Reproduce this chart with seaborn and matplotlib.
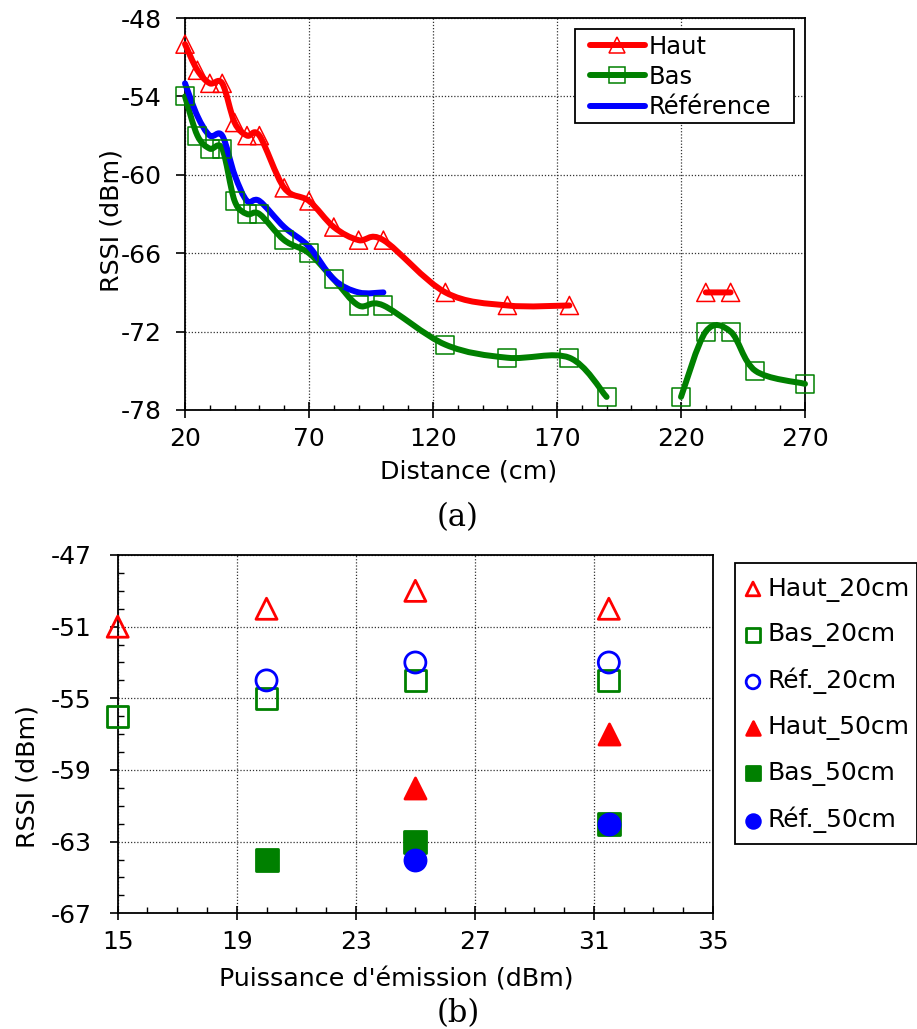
import numpy as np
import matplotlib
matplotlib.use("Agg")
import matplotlib.pyplot as plt
from matplotlib.path import Path
from matplotlib.patches import PathPatch, Rectangle
from matplotlib.lines import Line2D
from matplotlib.ticker import MultipleLocator
import seaborn as sns

# --- (a) RSSI vs distance ---
dist_haut = [20, 25, 30, 35, 40, 45, 50, 60, 70, 80, 90, 100, 125, 150, 175]
rssi_haut = [-50, -52, -53, -53, -56, -57, -57, -61, -62, -64, -65, -65, -69, -70, -70]
dist_haut2 = [230, 240]
rssi_haut2 = [-69, -69]

dist_bas = [20, 25, 30, 35, 40, 45, 50, 60, 70, 80, 90, 100, 125, 150, 175, 190]
rssi_bas = [-54, -57, -58, -58, -62, -63, -63, -65, -66, -68, -70, -70, -73, -74, -74, -77]
dist_bas2 = [220, 230, 240, 250, 270]
rssi_bas2 = [-77, -72, -72, -75, -76]

dist_ref = [20, 25, 30, 35, 40, 45, 50, 60, 70, 80, 90, 100]
rssi_ref = [-53, -55.5, -57, -57, -60, -62, -62, -64, -65.5, -68, -69, -69]

xticks_a = [20, 70, 120, 170, 220, 270]
yticks_a = [-78, -72, -66, -60, -54, -48]

# --- (b) RSSI vs emission power ---
pw_haut20 = [15, 20, 25, 31.5]
rssi_haut20 = [-51, -50, -49, -50]
pw_bas20 = [15, 20, 25, 31.5]
rssi_bas20 = [-56, -55, -54, -54]
pw_ref20 = [20, 25, 31.5]
rssi_ref20 = [-54, -53, -53]
pw_haut50 = [25, 31.5]
rssi_haut50 = [-60, -57]
pw_bas50 = [20, 25, 31.5]
rssi_bas50 = [-64, -63, -62]
pw_ref50 = [25, 31.5]
rssi_ref50 = [-64, -62]

xticks_b = [15, 19, 23, 27, 31, 35]
yticks_b = [-67, -63, -59, -55, -51, -47]

RED, GREEN, BLUE = "#ff0000", "#008000", "#0000ff"

sns.set_style("ticks")
plt.rcParams["font.family"] = ["DejaVu Sans"]
plt.rcParams["axes.unicode_minus"] = False
for key in ["text.color", "axes.labelcolor", "xtick.color", "ytick.color"]:
    plt.rcParams[key] = "black"


def smooth_curve(ax, x, y, color, lw=4.3):
    # Excel-like smoothed line (Catmull-Rom as cubic Bezier)
    pts = np.column_stack([x, y]).astype(float)
    n = len(pts)
    verts = [pts[0]]
    codes = [Path.MOVETO]
    for i in range(n - 1):
        p0 = pts[max(i - 1, 0)]
        p3 = pts[min(i + 2, n - 1)]
        verts += [pts[i] + (pts[i + 1] - p0) / 6, pts[i + 1] - (p3 - pts[i]) / 6, pts[i + 1]]
        codes += [Path.CURVE4] * 3
    ax.add_patch(PathPatch(Path(verts, codes), fill=False, edgecolor=color, lw=lw,
                           capstyle="round", joinstyle="round", zorder=3, clip_on=False))


def style_axes(ax):
    for sp in ax.spines.values():
        sp.set_visible(True)
        sp.set_color("black")
        sp.set_linewidth(1.3)
    ax.grid(True, which="major", linestyle=(0, (1, 1.5)), color="#333333", lw=0.9)
    ax.set_axisbelow(True)


W, H = 917, 1029
fig = plt.figure(figsize=(W / 100, H / 100), dpi=100)


def frame_box(x0, y0, x1, y1):
    # legend frame in figure pixels (from top-left)
    fig.patches.append(Rectangle((x0 / W, 1 - y1 / H), (x1 - x0) / W, (y1 - y0) / H,
                                 transform=fig.transFigure, fill=True, facecolor="white",
                                 edgecolor="black", lw=1.3, zorder=5))


# ---------- (a) ----------
ax1 = fig.add_axes([185 / W, 1 - 410 / H, 620 / W, 392 / H])
style_axes(ax1)

smooth_curve(ax1, dist_haut, rssi_haut, RED)
smooth_curve(ax1, dist_haut2, rssi_haut2, RED)
sns.scatterplot(x=dist_haut + dist_haut2, y=rssi_haut + rssi_haut2, ax=ax1, marker="^", s=170,
                facecolor="none", edgecolor=RED, linewidth=1.1, clip_on=False, zorder=4, legend=False)
smooth_curve(ax1, dist_bas, rssi_bas, GREEN)
smooth_curve(ax1, dist_bas2, rssi_bas2, GREEN)
sns.scatterplot(x=dist_bas + dist_bas2, y=rssi_bas + rssi_bas2, ax=ax1, marker="s", s=170,
                facecolor="none", edgecolor=GREEN, linewidth=1.1, clip_on=False, zorder=4, legend=False)
smooth_curve(ax1, dist_ref, rssi_ref, BLUE)

ax1.set_xlim(20, 270)
ax1.set_ylim(-78, -48)
ax1.set_xticks(xticks_a)
ax1.set_yticks(yticks_a)
ax1.xaxis.set_minor_locator(MultipleLocator(10))
ax1.tick_params(axis="x", which="major", direction="inout", length=11, width=1.2, pad=7, labelsize=18)
ax1.tick_params(axis="x", which="minor", direction="in", length=3.6, width=1.0)
ax1.tick_params(axis="y", which="major", direction="out", length=6.5, width=1.2, pad=10, labelsize=18)

ax1.set_xlabel("Distance (cm)", fontsize=18.3)
ax1.set_ylabel("RSSI (dBm)", fontsize=18.3)
ax1.xaxis.set_label_coords((469 - 185) / 620, (410 - 471) / 392)
ax1.xaxis.label.set_va("center")
ax1.yaxis.set_label_coords((112 - 185) / 620, (410 - 220) / 392)
ax1.yaxis.label.set_va("center")

frame_box(575, 29, 794, 123)
handles1 = [
    Line2D([], [], color=RED, lw=4.3, marker="^", ms=12, mfc="none", mec=RED, mew=1.1),
    Line2D([], [], color=GREEN, lw=4.3, marker="s", ms=12, mfc="none", mec=GREEN, mew=1.1),
    Line2D([], [], color=BLUE, lw=4.3),
]
leg1 = fig.legend(handles1, ["Haut", "Bas", "Référence"], loc="upper left",
                  bbox_to_anchor=(590 / W, 1 - 34.5 / H), borderaxespad=0, borderpad=0,
                  fontsize=17.5, frameon=False, labelspacing=0.26, handlelength=2.26,
                  handletextpad=0.16)
leg1.set_zorder(6)

fig.text(458 / W, 1 - 518 / H, "(a)", ha="center", va="center", fontsize=22, family="DejaVu Serif")

# ---------- (b) ----------
ax2 = fig.add_axes([117.7 / W, 1 - 913.3 / H, 595.3 / W, 358.3 / H])
style_axes(ax2)

series_b = [
    (pw_haut20, rssi_haut20, "^", RED, False, "Haut_20cm"),
    (pw_bas20, rssi_bas20, "s", GREEN, False, "Bas_20cm"),
    (pw_ref20, rssi_ref20, "o", BLUE, False, "Réf._20cm"),
    (pw_haut50, rssi_haut50, "^", RED, True, "Haut_50cm"),
    (pw_bas50, rssi_bas50, "s", GREEN, True, "Bas_50cm"),
    (pw_ref50, rssi_ref50, "o", BLUE, True, "Réf._50cm"),
]
for xs, ys, mk, col, filled, lab in series_b:
    sns.scatterplot(x=xs, y=ys, ax=ax2, marker=mk, s=230,
                    facecolor=col if filled else "none", edgecolor=col, linewidth=2.0,
                    clip_on=False, zorder=4, label=lab)

ax2.set_xlim(15, 35)
ax2.set_ylim(-67, -47)
ax2.set_xticks(xticks_b)
ax2.set_yticks(yticks_b)
ax2.xaxis.set_minor_locator(MultipleLocator(1))
ax2.yaxis.set_minor_locator(MultipleLocator(1))
ax2.tick_params(axis="x", which="major", direction="inout", length=10, width=1.2, pad=7, labelsize=18)
ax2.tick_params(axis="both", which="minor", direction="in", length=4, width=1.0)
ax2.tick_params(axis="y", which="major", direction="out", length=6, width=1.2, pad=13, labelsize=18)

ax2.set_xlabel("Puissance d'émission (dBm)", fontsize=18.3)
ax2.set_ylabel("RSSI (dBm)", fontsize=18.3)
ax2.xaxis.set_label_coords((396.7 - 117.7) / 595.3, (913.3 - 979) / 358.3)
ax2.xaxis.label.set_va("center")
ax2.yaxis.set_label_coords((27.5 - 117.7) / 595.3, (913.3 - 776) / 358.3)
ax2.yaxis.label.set_va("center")

h2, l2 = ax2.get_legend_handles_labels()
ax2.get_legend().remove()
frame_box(735, 563, 916.5, 844)
leg2 = fig.legend(h2, l2, loc="upper left", bbox_to_anchor=(743 / W, 1 - 576.5 / H),
                  borderaxespad=0, borderpad=0, fontsize=18, frameon=False,
                  labelspacing=0.83, handlelength=0.8, handletextpad=0.19, markerscale=0.65)
leg2.set_zorder(6)

fig.text(458 / W, 1 - 1014 / H, "(b)", ha="center", va="center", fontsize=22, family="DejaVu Serif")

fig.savefig("out.png", dpi=100)
